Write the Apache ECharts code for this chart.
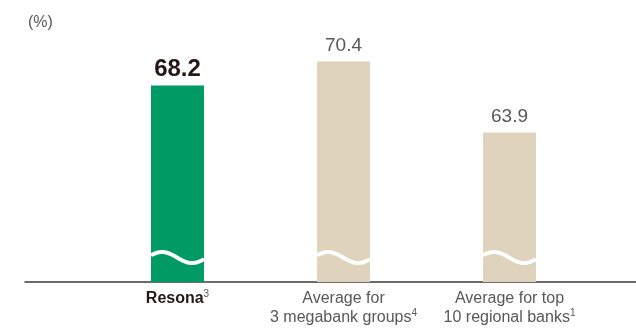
<!DOCTYPE html>
<html>
<head>
<meta charset="utf-8">
<script src="https://cdn.jsdelivr.net/npm/echarts@6/dist/echarts.min.js"></script>
<style>
  html, body { margin: 0; padding: 0; background: #fff; }
  #chart { width: 636px; height: 329px; }
</style>
</head>
<body>
<div id="chart"></div>
<script>
 var categories = ['Resona', 'Average for\n3 megabank groups', 'Average for top\n10 regional banks'];
 var notes = ['3', '4', '1'];
 var values = [68.2, 70.4, 63.9];
 var barColors = ['#009b64', '#dfd3bd', '#dfd3bd'];

 var yMin = 50.2;
 var yMax = 72;

 function catLabel(value, idx) {
   var lines = value.split('\n');
   var st = idx === 0 ? 'b' : 'n';
   var out = [];
   for (var i = 0; i < lines.length; i++) {
     var s = '{' + st + '|' + lines[i] + '}';
     if (i === lines.length - 1) s += '{s|' + notes[idx] + '}';
     out.push(s);
   }
   return out.join('\n');
 }

 // 波浪线（断轴标记）
 function renderWave(params, api) {
   var p = api.coord([api.value(0), yMin]);
   var cx = p[0];
   var half = 26.5;
   var yc = p[1] - 24.5;
   var x0 = cx - half;
   var pts = [];
   for (var x = x0; x <= cx + half + 0.01; x += 1) {
     pts.push([x, yc - 5.5 * Math.sin(Math.PI * (x - (x0 - 4)) / 30)]);
   }
   return {
     type: 'polyline',
     shape: { points: pts },
     style: { stroke: '#ffffff', lineWidth: 4, fill: null }
   };
 }

 function makeOption() {
   var barData = values.map(function (v, i) {
     var item = { value: v, itemStyle: { color: barColors[i] } };
     if (i === 0) {
       item.label = { fontSize: 24, fontWeight: 'bold', color: '#231815', distance: 4 };
     }
     return item;
   });
   var option = {
     animation: false,
     textStyle: { fontFamily: 'Liberation Sans, Arial, sans-serif' },
     title: {
       text: '(%)',
       left: 23,
       top: 10,
       textStyle: { fontSize: 16, fontWeight: 'normal', color: '#595757' }
     },
     grid: [
       { left: 94.5, right: 43.5, top: 44, bottom: 47 },
       { left: 25, right: 0, top: 44, bottom: 47 }
     ],
     xAxis: [
       {
         type: 'category',
         gridIndex: 0,
         data: categories,
         axisLine: { show: false },
         axisTick: { show: false },
         axisLabel: {
           margin: 7,
           interval: 0,
           formatter: catLabel,
           rich: {
             b: { fontSize: 16, fontWeight: 'bold', color: '#231815', lineHeight: 19 },
             n: { fontSize: 16, color: '#595757', lineHeight: 19 },
             s: { fontSize: 10, color: '#595757', verticalAlign: 'top', lineHeight: 19, padding: [0, 0, 5, 0] }
           }
         }
       },
       {
         type: 'value',
         gridIndex: 1,
         min: 0,
         max: 1,
         axisLine: { show: true, lineStyle: { color: '#3e3a39', width: 1.5 } },
         axisTick: { show: false },
         axisLabel: { show: false },
         splitLine: { show: false }
       }
     ],
     yAxis: [
       { type: 'value', gridIndex: 0, min: yMin, max: yMax, show: false },
       { type: 'value', gridIndex: 1, min: 0, max: 1, show: false }
     ],
     series: [
       {
         type: 'bar',
         xAxisIndex: 0,
         yAxisIndex: 0,
         barWidth: 53,
         data: barData,
         label: {
           show: true,
           position: 'top',
           distance: 6,
           fontSize: 19,
           color: '#595757',
           formatter: function (p) { return p.value.toFixed(1); }
         }
       },
       {
         type: 'custom',
         xAxisIndex: 0,
         yAxisIndex: 0,
         renderItem: renderWave,
         data: values.map(function (v, i) { return [i, yMin]; }),
         silent: true,
         z: 5
       }
     ]
   };
   return option;
 }

 function setChart(id, option) {
   var myChart = echarts.init(document.getElementById(id));
   myChart.setOption(option);
 }

 setChart('chart', makeOption());
</script>
</body>
</html>
